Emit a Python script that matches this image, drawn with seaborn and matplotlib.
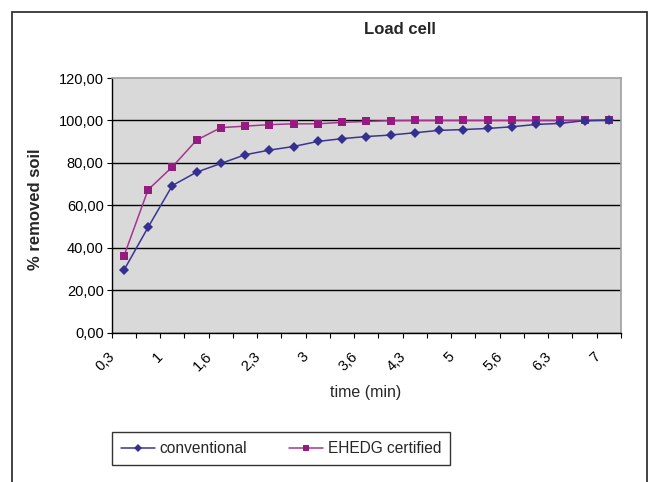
import matplotlib
matplotlib.use('Agg')
import matplotlib.pyplot as plt
import matplotlib.transforms as mtransforms
from matplotlib.patches import Rectangle
from matplotlib.ticker import FixedLocator, FuncFormatter
import seaborn as sns
import pandas as pd

# ---- data ----
time_labels = ['0,3', '0,6', '1', '1,3', '1,6', '2', '2,3', '2,6', '3', '3,3', '3,6',
               '4', '4,3', '4,6', '5', '5,3', '5,6', '6', '6,3', '6,6', '7']
conventional = [29.3, 49.6, 69.3, 75.6, 79.7, 83.8, 86.0, 87.7, 90.1, 91.4, 92.4,
                93.1, 94.2, 95.3, 95.7, 96.2, 97.0, 98.1, 98.6, 99.9, 100.2]
ehedg = [35.9, 67.3, 78.1, 90.7, 96.6, 97.3, 98.0, 98.4, 98.4, 99.1, 99.5,
         99.9, 100.0, 100.0, 100.0, 100.0, 100.0, 100.0, 100.0, 100.0, 100.0]
series_names = ['conventional', 'EHEDG certified']
y_ticks = [0, 20, 40, 60, 80, 100, 120]

rows = []
for i, lab in enumerate(time_labels):
    rows.append({'pos': i, 'time': lab, 'value': conventional[i], 'series': series_names[0]})
for i, lab in enumerate(time_labels):
    rows.append({'pos': i, 'time': lab, 'value': ehedg[i], 'series': series_names[1]})
df = pd.DataFrame(rows)

sns.set_style('white', {'axes.facecolor': '#d9d9d9'})
plt.rcParams['font.family'] = ['Liberation Sans', 'DejaVu Sans']

W, H = 648, 482
fig = plt.figure(figsize=(W / 100, H / 100), dpi=100)
ax_left, ax_right, ax_top, ax_bottom = 111.7, 621, 78, 332.5
ax = fig.add_axes([ax_left / W, 1 - ax_bottom / H, (ax_right - ax_left) / W, (ax_bottom - ax_top) / H])

colors = {'conventional': '#35308f', 'EHEDG certified': '#951b81'}
line_colors = {'conventional': '#3b3496', 'EHEDG certified': '#a43592'}
sns.lineplot(data=df, x='pos', y='value', hue='series', style='series',
             markers={'conventional': 'D', 'EHEDG certified': 's'}, dashes=False,
             palette=line_colors, ax=ax, legend=False, linewidth=1.1, zorder=3)

# marker styling
lines = ax.get_lines()
marker_sizes = {'conventional': 5.5, 'EHEDG certified': 5.2}
for ln, name in zip(lines, series_names):
    ln.set_markerfacecolor(colors[name])
    ln.set_markeredgecolor(colors[name])
    ln.set_markeredgewidth(0)
    ln.set_markersize(marker_sizes[name])
lines[0].set_zorder(4)
lines[1].set_zorder(3)

ax.set_xlim(-0.5, len(time_labels) - 0.5)
ax.set_ylim(0, 120)
ax.set_xlabel('')
ax.set_ylabel('')

# y axis
ax.yaxis.set_major_locator(FixedLocator(y_ticks))
ax.yaxis.set_major_formatter(FuncFormatter(lambda v, p: f'{v:.2f}'.replace('.', ',')))
ax.grid(axis='y', color='black', linewidth=1.0, zorder=1)
ax.get_ygridlines()[-1].set_visible(False)
ax.tick_params(axis='y', which='major', left=True, length=3.6, width=0.8, color='black',
               pad=2.2, labelsize=10.5, labelcolor='black', direction='out')

# x axis: tick marks at category boundaries, labels on every other category
ax.xaxis.set_minor_locator(FixedLocator([i - 0.5 for i in range(len(time_labels) + 1)]))
label_pos = list(range(0, len(time_labels), 2))
ax.xaxis.set_major_locator(FixedLocator(label_pos))
ax.set_xticklabels([time_labels[i] for i in label_pos])
ax.tick_params(axis='x', which='minor', bottom=True, length=3.6, width=0.8, color='black', direction='out')
ax.tick_params(axis='x', which='major', bottom=True, length=0, pad=12, labelsize=10.5, labelcolor='black')
offset = mtransforms.ScaledTranslation(-16 / 100, 0, fig.dpi_scale_trans)
for lab in ax.get_xticklabels():
    lab.set_rotation(45)
    lab.set_ha('right')
    lab.set_va('top')
    lab.set_rotation_mode('anchor')
    lab.set_transform(lab.get_transform() + offset)

for side in ['left', 'bottom']:
    ax.spines[side].set_color('black')
    ax.spines[side].set_linewidth(1.0)
for side in ['top', 'right']:
    ax.spines[side].set_color('#a0a0a0')
    ax.spines[side].set_linewidth(1.2)

# texts
fig.text(400 / W, 1 - 30 / H, 'Load cell', ha='center', va='center', fontsize=12, fontweight='bold')
fig.text(36 / W, 1 - 209 / H, '% removed soil', ha='center', va='center', rotation=90,
         fontsize=12, fontweight='bold')
fig.text(366 / W, 1 - 392 / H, 'time (min)', ha='center', va='center', fontsize=11.5)

# legend
leg = ax.legend(lines, series_names, ncol=2, loc='center',
                bbox_to_anchor=(281 / W, 1 - 448.5 / H), bbox_transform=fig.transFigure,
                frameon=True, fancybox=False, edgecolor='black', facecolor='white',
                fontsize=11.2, handlelength=2.2, handletextpad=0.3, columnspacing=2.7,
                borderpad=0.55, borderaxespad=0)
leg.get_frame().set_linewidth(1.0)
leg_lines = leg.get_lines()
for ll, name in zip(leg_lines, series_names):
    ll.set_markersize(marker_sizes[name] * 0.8)

# outer frame (bottom edge lies beyond the image)
fig.patches.append(Rectangle((12 / W, -0.05), (647 - 12) / W, 1.05 - 12 / H, transform=fig.transFigure,
                             fill=False, edgecolor='#222222', linewidth=1.2))

fig.savefig('out.png', dpi=100)
